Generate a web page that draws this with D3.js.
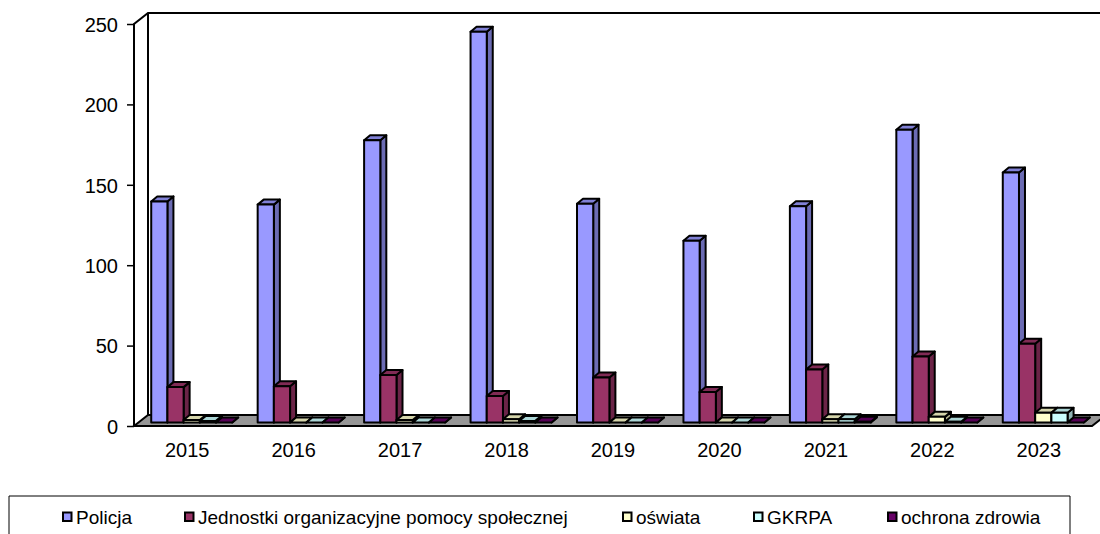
<!DOCTYPE html>
<html>
<head>
<meta charset="utf-8">
<script src="https://cdn.jsdelivr.net/npm/d3@7"></script>
<style>
  html, body { margin: 0; padding: 0; background: #fff; overflow: hidden; }
  text { font-family: "Liberation Sans", Arial, sans-serif; fill: #000; }
</style>
</head>
<body>
<div id="chart"></div>
<script>
//data
var years = ["2015", "2016", "2017", "2018", "2019", "2020", "2021", "2022", "2023"];
var seriesNames = ["Policja", "Jednostki organizacyjne pomocy społecznej", "oświata", "GKRPA", "ochrona zdrowia"];
var policja = [137.5, 135.5, 175.5, 243, 136, 113, 134.5, 182, 155.5];
var jednostki = [22, 22.5, 29.5, 16.5, 28, 19, 33, 41, 49];
var oswiata = [1.5, 0, 1.5, 2, 0, 0, 2, 3.5, 6];
var gkrpa = [1, 0, 0, 1, 0, 0, 2, 0.5, 6];
var ochrona = [0, 0, 0, 0, 0, 0, 0.5, 0, 0];
var yTicks = [0, 50, 100, 150, 200, 250];

var seriesValues = [policja, jednostki, oswiata, gkrpa, ochrona];
var colors = ["#9999FF", "#993366", "#FFFFCC", "#CCFFFF", "#660066"];

//Width and height
var w = 1100;
var h = 534;

//plot frame: front edge of the floor, and how far the back wall is shifted
var left = 134, right = 1092, top0 = 24, bottom = 426;
var depthX = 14, depthY = 11;
//box depth of a single bar and where it stands on the floor
var barDX = 6, barDY = 5;
var floorX = 4.5, floorY = 3.5;

var svg = d3.select("#chart")
  .append("svg")
  .attr("width", w)
  .attr("height", h)
  .style("display", "block");

var x = d3.scaleBand().domain(years).range([left, right]);
var y = d3.scaleLinear().domain([0, 250]).range([bottom, top0]);

var groupWidth = 81;
var xInner = d3.scaleBand()
  .domain(d3.range(seriesNames.length))
  .range([(x.bandwidth() - groupWidth) / 2, (x.bandwidth() + groupWidth) / 2]);

//----------------------------------------------------------
// Walls and floor

var frame = svg.append("g")
  .attr("fill", "none")
  .attr("stroke", "#000")
  .attr("stroke-width", 2);

frame.append("path")
  .attr("fill", "#969696")
  .attr("d", d3.line()([
    [left, bottom], [left + depthX, bottom - depthY],
    [right + depthX, bottom - depthY], [right, bottom]
  ]) + "Z");

frame.append("path")
  .attr("d", d3.line()([
    [left, bottom], [left, top0], [left + depthX, top0 - depthY], [right + depthX, top0 - depthY]
  ]));
frame.append("path")
  .attr("d", d3.line()([
    [left + depthX, bottom - depthY], [left + depthX, top0 - depthY]
  ]));

//----------------------------------------------------------
// Y axis

var yAxis = d3.axisLeft(y)
  .tickValues(yTicks)
  .tickSize(7)
  .tickPadding(9);

var yAxisG = svg.append("g")
  .attr("transform", "translate(" + left + ",0)")
  .call(yAxis);
yAxisG.select(".domain").remove();
yAxisG.selectAll("line").attr("stroke", "#000").attr("stroke-width", 1.5);
yAxisG.selectAll("text").attr("font-size", 20).attr("dy", "0.36em");

//----------------------------------------------------------
// X axis labels

svg.selectAll("text.year")
  .data(years)
  .enter()
  .append("text")
  .attr("class", "year")
  .attr("x", function(d) { return x(d) + x.bandwidth() / 2; })
  .attr("y", 457)
  .attr("text-anchor", "middle")
  .attr("font-size", 20)
  .text(function(d) { return d; });

//----------------------------------------------------------
// Bars, drawn as small boxes

var bars = [];
years.forEach(function(year, i) {
  seriesValues.forEach(function(values, s) {
    bars.push({ year: year, s: s, value: values[i] });
  });
});

var barG = svg.selectAll("g.bar")
  .data(bars)
  .enter()
  .append("g")
  .attr("class", "bar")
  .attr("stroke", "#000")
  .attr("stroke-width", 2)
  .attr("stroke-linejoin", "round");

function bx0(d) { return x(d.year) + xInner(d.s) + floorX; }
function bx1(d) { return bx0(d) + xInner.bandwidth(); }
function by0(d) { return y(0) - floorY; }
function by1(d) { return y(d.value) - floorY; }

//side face
barG.append("path")
  .attr("fill", function(d) { return d3.rgb(colors[d.s]).darker(1.0); })
  .attr("d", function(d) {
    return d3.line()([
      [bx1(d), by0(d)], [bx1(d), by1(d)],
      [bx1(d) + barDX, by1(d) - barDY], [bx1(d) + barDX, by0(d) - barDY]
    ]) + "Z";
  });

//top face
barG.append("path")
  .attr("fill", function(d) { return d3.rgb(colors[d.s]).darker(0.5); })
  .attr("d", function(d) {
    return d3.line()([
      [bx0(d), by1(d)], [bx0(d) + barDX, by1(d) - barDY],
      [bx1(d) + barDX, by1(d) - barDY], [bx1(d), by1(d)]
    ]) + "Z";
  });

//front face
barG.append("rect")
  .attr("x", bx0)
  .attr("y", by1)
  .attr("width", xInner.bandwidth())
  .attr("height", function(d) { return by0(d) - by1(d); })
  .attr("fill", function(d) { return colors[d.s]; });

//----------------------------------------------------------
// Legend

var legendStarts = [62, 184, 622, 753, 887];

svg.append("path")
  .attr("d", d3.line()([[9, 534], [9, 496], [1070, 496], [1070, 534]]))
  .attr("fill", "none")
  .attr("stroke", "#000")
  .attr("stroke-width", 1);

var legend = svg.selectAll("g.legend")
  .data(seriesNames)
  .enter()
  .append("g")
  .attr("class", "legend")
  .attr("transform", function(d, i) { return "translate(" + legendStarts[i] + ",518)"; });

legend.append("rect")
  .attr("x", 1)
  .attr("y", -5.5)
  .attr("width", 8.5)
  .attr("height", 8.5)
  .attr("fill", function(d, i) { return colors[i]; })
  .attr("stroke", "#000")
  .attr("stroke-width", 2);

legend.append("text")
  .attr("x", 14)
  .attr("y", 6)
  .attr("font-size", 19)
  .text(function(d) { return d; });
</script>
</body>
</html>
